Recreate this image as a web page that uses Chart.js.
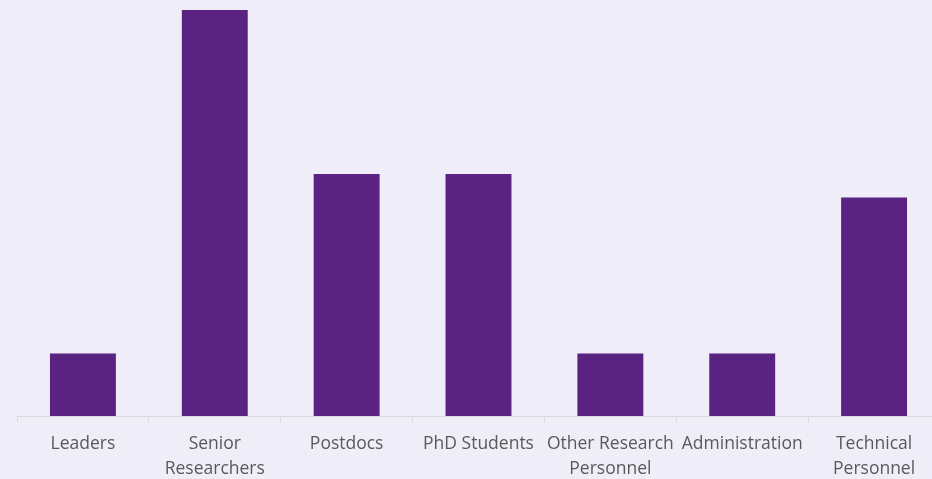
<!DOCTYPE html>
<html>
<head>
<meta charset="utf-8">
<script src="https://cdn.jsdelivr.net/npm/chart.js@4"></script>
<style>
html,body{margin:0;padding:0;background:#EFEEF8;overflow:hidden;}
#wrap{position:relative;width:940px;height:479px;}
</style>
</head>
<body>
<div id="wrap"><canvas id="c" width="940" height="479"></canvas></div>
<script>
const categories = [
  'Leaders',
  ['Senior', 'Researchers'],
  'Postdocs',
  'PhD Students',
  ['Other Research', 'Personnel'],
  'Administration',
  ['Technical', 'Personnel']
];
const staffCounts = [2, 13, 7.75, 7.75, 2, 2, 7];

new Chart(document.getElementById('c'), {
  type: 'bar',
  data: {
    labels: categories,
    datasets: [{
      data: staffCounts,
      backgroundColor: '#5B2381',
      borderWidth: 0,
      barPercentage: 0.5,
      categoryPercentage: 1
    }]
  },
  options: {
    responsive: false,
    animation: false,
    layout: { padding: { left: 17, top: 10, right: 0, bottom: 0 } },
    plugins: { legend: { display: false }, tooltip: { enabled: false } },
    scales: {
      y: { display: false, min: 0, max: 13 },
      x: {
        grid: { drawOnChartArea: false, color: '#D9D9D9', tickLength: 6, offset: true },
        border: { color: '#D9D9D9' },
        ticks: {
          color: '#595959',
          font: { family: 'Open Sans', size: 17.5, lineHeight: 1.4 },
          padding: 10,
          maxRotation: 0,
          autoSkip: false
        },
        afterFit(scale) { scale.height = 63; }
      }
    }
  }
});
</script>
</body>
</html>
